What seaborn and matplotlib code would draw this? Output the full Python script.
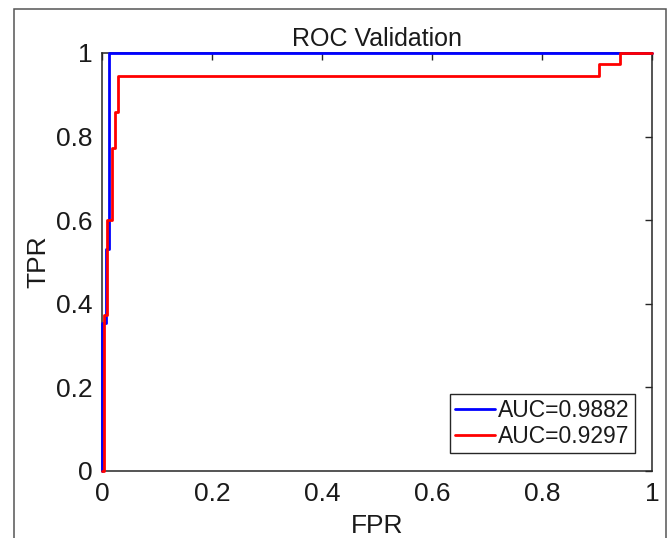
import matplotlib
matplotlib.use("Agg")
import matplotlib.pyplot as plt
import seaborn as sns
import pandas as pd
from matplotlib.patches import Rectangle

# Data (ROC curve vertices)
fpr_a = [0.0, 0.0, 0.0067, 0.0067, 0.0127, 0.0127, 1.0]
tpr_a = [0.0, 0.354, 0.354, 0.531, 0.531, 1.0, 1.0]
fpr_b = [0.0, 0.004, 0.004, 0.0085, 0.0085, 0.018, 0.018, 0.023, 0.023, 0.030, 0.030, 0.904, 0.904, 0.942, 0.942, 1.0]
tpr_b = [0.0, 0.0, 0.373, 0.373, 0.600, 0.600, 0.773, 0.773, 0.859, 0.859, 0.945, 0.945, 0.973, 0.973, 1.0, 1.0]
labels = ["AUC=0.9882", "AUC=0.9297"]
colors = ["#0000ff", "#ff0000"]
ticks = [0, 0.2, 0.4, 0.6, 0.8, 1]
tick_labels = ["0", "0.2", "0.4", "0.6", "0.8", "1"]

sns.set_style("white")
plt.rcParams["font.family"] = ["Liberation Sans", "DejaVu Sans"]

df = pd.concat([
    pd.DataFrame({"FPR": fpr_a, "TPR": tpr_a, "curve": labels[0]}),
    pd.DataFrame({"FPR": fpr_b, "TPR": tpr_b, "curve": labels[1]}),
], ignore_index=True)

fig = plt.figure(figsize=(6.72, 5.38), dpi=100)
ax = fig.add_axes([102 / 672, 1 - 471 / 538, 550 / 672, 418 / 538])

sns.lineplot(data=df, x="FPR", y="TPR", hue="curve", palette=colors, sort=False,
             estimator=None, lw=2.0, ax=ax, zorder=5, clip_on=False)

ax.set_xlim(0, 1)
ax.set_ylim(0, 1)
ax.set_xticks(ticks)
ax.set_xticklabels(tick_labels)
ax.set_yticks(ticks)
ax.set_yticklabels(tick_labels)
ax.tick_params(direction="in", length=5, width=1, colors="#262626", labelsize=19,
               top=True, right=True, pad=8)
ax.tick_params(axis="y", pad=7)
ax.tick_params(axis="both", labelcolor="#1a1a1a")
for s in ax.spines.values():
    s.set_visible(True)
    s.set_color("#262626")
    s.set_linewidth(1.1)

ax.set_title("ROC Validation", fontsize=18, pad=5, color="#1a1a1a")
ax.set_xlabel("FPR", fontsize=19, labelpad=6, color="#1a1a1a")
ax.set_ylabel("TPR", fontsize=19, labelpad=4, color="#1a1a1a")

leg = ax.legend(loc="lower right", bbox_to_anchor=(0.969, 0.043), fontsize=16.5,
                frameon=True, fancybox=False, handlelength=1.75, handletextpad=0.15,
                borderpad=0.22, labelspacing=0.12, borderaxespad=0)
leg.get_frame().set_edgecolor("#262626")
leg.get_frame().set_linewidth(1.0)
leg.get_frame().set_alpha(1)
for t in leg.get_texts():
    t.set_color("#1a1a1a")

# outer figure border
fig.patches.append(Rectangle((14 / 672, -0.05), (666 - 14) / 672, 1.05 - 9 / 538,
                             transform=fig.transFigure, fill=False,
                             edgecolor="#555555", linewidth=1.1, zorder=0))

fig.savefig("out.png", dpi=100)
